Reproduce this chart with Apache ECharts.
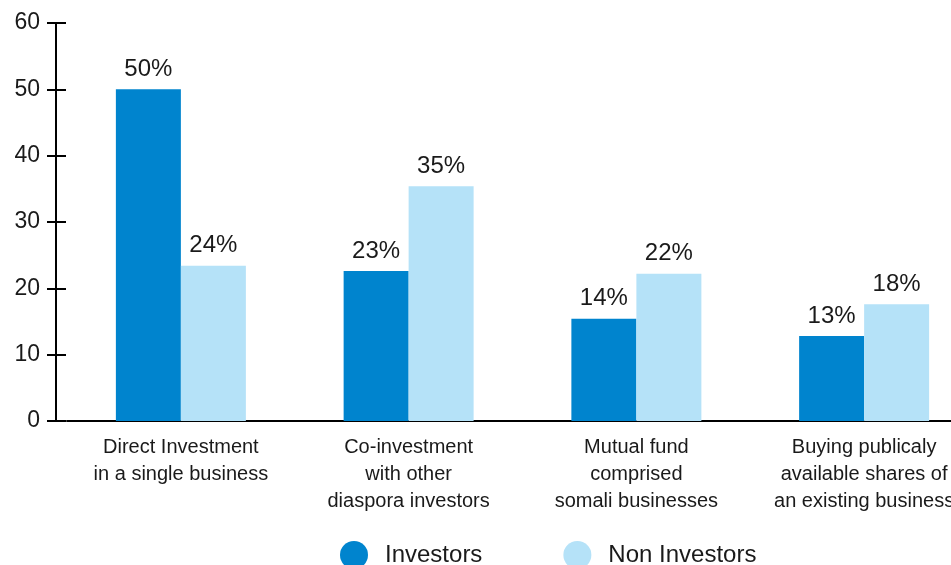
<!DOCTYPE html>
<html>
<head>
<meta charset="utf-8">
<script src="https://cdn.jsdelivr.net/npm/echarts@6/dist/echarts.min.js"></script>
<style>
  html, body { margin: 0; padding: 0; background: #fff; }
  #chart { width: 951px; height: 565px; }
</style>
</head>
<body>
<div id="chart"></div>
<script>
// data
const categories = [
  'Direct Investment\nin a single business',
  'Co-investment\nwith other\ndiaspora investors',
  'Mutual fund\ncomprised\nsomali businesses',
  'Buying publicaly\navailable shares of\nan existing business'
];
const investors = [50, 22.6, 15.4, 12.8];
const nonInvestors = [23.4, 35.4, 22.2, 17.6];
const investorLabels = ['50%', '23%', '14%', '13%'];
const nonInvestorLabels = ['24%', '35%', '22%', '18%'];

const font = 'Liberation Sans, Arial, sans-serif';
const ink = '#1a1a1a';

const chart = echarts.init(document.getElementById('chart'));

const valueAxis = {
  type: 'value',
  min: 0,
  max: 60,
  interval: 10,
  offset: 11,
  splitLine: { show: false }
};

chart.setOption({
  animation: false,
  textStyle: { fontFamily: font },
  // plot runs past the right edge, so the last group is cut off like the original
  grid: { left: 67, width: 911, top: 23, bottom: 144, outerBoundsMode: 'none', containLabel: false },
  legend: {
    left: 335,
    top: 536,
    itemWidth: 28,
    itemHeight: 28,
    itemGap: 81,
    icon: 'circle',
    textStyle: { fontSize: 24, color: ink, fontFamily: font, padding: [0, 0, 0, 12] },
    data: ['Investors', 'Non Investors']
  },
  xAxis: {
    type: 'category',
    data: categories,
    axisLine: { lineStyle: { color: '#000', width: 2 } },
    axisTick: { show: false },
    axisLabel: { fontSize: 20, lineHeight: 27, color: ink, margin: 13, interval: 0 }
  },
  yAxis: [
    Object.assign({}, valueAxis, {
      position: 'left',
      axisLine: { show: true, lineStyle: { color: '#000', width: 2 } },
      axisTick: { show: true, length: 9, lineStyle: { color: '#000', width: 2 } },
      axisLabel: { fontSize: 23, color: ink, margin: 16 }
    }),
    Object.assign({}, valueAxis, {
      position: 'left',
      axisLine: { show: false },
      axisTick: { show: true, inside: true, length: 10, lineStyle: { color: '#000', width: 2 } },
      axisLabel: { show: false }
    })
  ],
  series: [
    {
      name: 'Investors',
      type: 'bar',
      data: investors,
      barWidth: 65,
      barGap: '0%',
      itemStyle: { color: '#0084CE' },
      label: {
        show: true, position: 'top', distance: 8, fontSize: 24, color: ink,
        formatter: p => investorLabels[p.dataIndex]
      }
    },
    {
      name: 'Non Investors',
      type: 'bar',
      data: nonInvestors,
      barWidth: 65,
      itemStyle: { color: '#B5E2F8' },
      label: {
        show: true, position: 'top', distance: 8, fontSize: 24, color: ink,
        formatter: p => nonInvestorLabels[p.dataIndex]
      }
    }
  ]
});
</script>
</body>
</html>
